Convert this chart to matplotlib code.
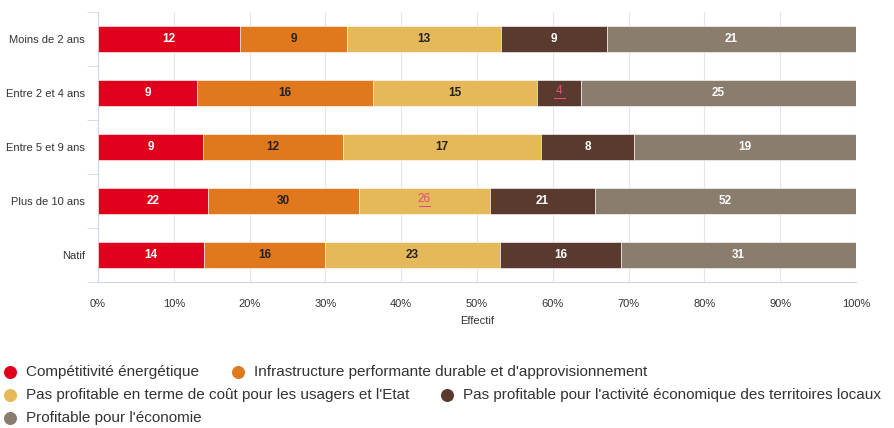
import matplotlib.pyplot as plt
import numpy as np

categories = ["Moins de 2 ans", "Entre 2 et 4 ans", "Entre 5 et 9 ans", "Plus de 10 ans", "Natif"]
series_names = [
    "Compétitivité énergétique",
    "Infrastructure performante durable et d'approvisionnement",
    "Pas profitable en terme de coût pour les usagers et l'Etat",
    "Pas profitable pour l'activité économique des territoires locaux",
    "Profitable pour l'économie",
]
competitivite = [12, 9, 9, 22, 14]
infrastructure = [9, 16, 12, 30, 16]
pas_profitable_cout = [13, 15, 17, 26, 23]
pas_profitable_local = [9, 4, 8, 21, 16]
profitable = [21, 25, 19, 52, 31]

colors = ["#e0001b", "#e0781e", "#e5b95a", "#5a3a2e", "#8a7d6e"]
label_colors = ["white", "#222222", "#222222", "white", "white"]
# two labels are shown highlighted (pink, underlined) in the source
highlighted = {(2, 3), (3, 1)}

plt.rcParams["font.family"] = ["Liberation Sans", "DejaVu Sans"]

values = np.array([competitivite, infrastructure, pas_profitable_cout,
                   pas_profitable_local, profitable], dtype=float)
totals = values.sum(axis=0)
shares = values / totals * 100

fig = plt.figure(figsize=(8.95, 4.28), dpi=100)
ax = fig.add_axes([98 / 895, 1 - 282 / 428, (856 - 98) / 895, 270 / 428])

y = np.arange(len(categories))
left = np.zeros(len(categories))
for i in range(len(series_names)):
    ax.barh(y, shares[i], left=left, height=0.48, color=colors[i],
            edgecolor="white", linewidth=0.4, zorder=3)
    for j in range(len(categories)):
        xc = left[j] + shares[i][j] / 2
        if (i, j) in highlighted:
            ax.text(xc, y[j] - 0.03, f"{int(values[i][j])}", ha="center", va="center",
                    fontsize=8.5, color="#e0507a", zorder=4)
            ax.plot([xc - 0.7, xc + 0.7], [y[j] + 0.1, y[j] + 0.1], color="#e0507a",
                    linewidth=0.8, zorder=4)
        else:
            ax.text(xc, y[j], f"{int(values[i][j])}", ha="center", va="center",
                    fontsize=8.5, fontweight="bold", color=label_colors[i], zorder=4)
    left += shares[i]

ax.set_ylim(len(categories) - 0.5, -0.5)
ax.set_xlim(0, 100)
ax.set_yticks(y)
ax.set_yticklabels(categories, fontsize=8, color="#333333")
ax.set_yticks(np.arange(-0.5, len(categories), 1), minor=True)
ax.tick_params(axis="y", which="major", length=0, pad=9.5)
ax.tick_params(axis="y", which="minor", length=8, color="#ccd6eb")
ax.set_xticks(np.arange(0, 101, 10))
ax.set_xticklabels([f"{t}%" for t in range(0, 101, 10)], fontsize=8, color="#333333")
ax.tick_params(axis="x", length=0, pad=12)
ax.set_xlabel("Effectif", fontsize=8, color="#333333", labelpad=5)
ax.grid(axis="x", color="#e6e6e6", linewidth=0.8, zorder=0)
for side in ("top", "right"):
    ax.spines[side].set_visible(False)
ax.spines["left"].set_color("#ccd6eb")
ax.spines["bottom"].set_color("#ccd6eb")

# legend drawn in pixel space
leg = fig.add_axes([0, 0, 1, 1])
leg.set_xlim(0, 895)
leg.set_ylim(428, 0)
leg.axis("off")
positions = [(10, 372), (238, 372), (10, 395), (447, 395), (10, 418)]
for (px, py), name, c in zip(positions, series_names, colors):
    leg.scatter(px, py, s=70, color=c)
    leg.text(px + 16, py, name, va="center", ha="left", fontsize=11, color="#333333")

fig.savefig("out.png", dpi=100)
